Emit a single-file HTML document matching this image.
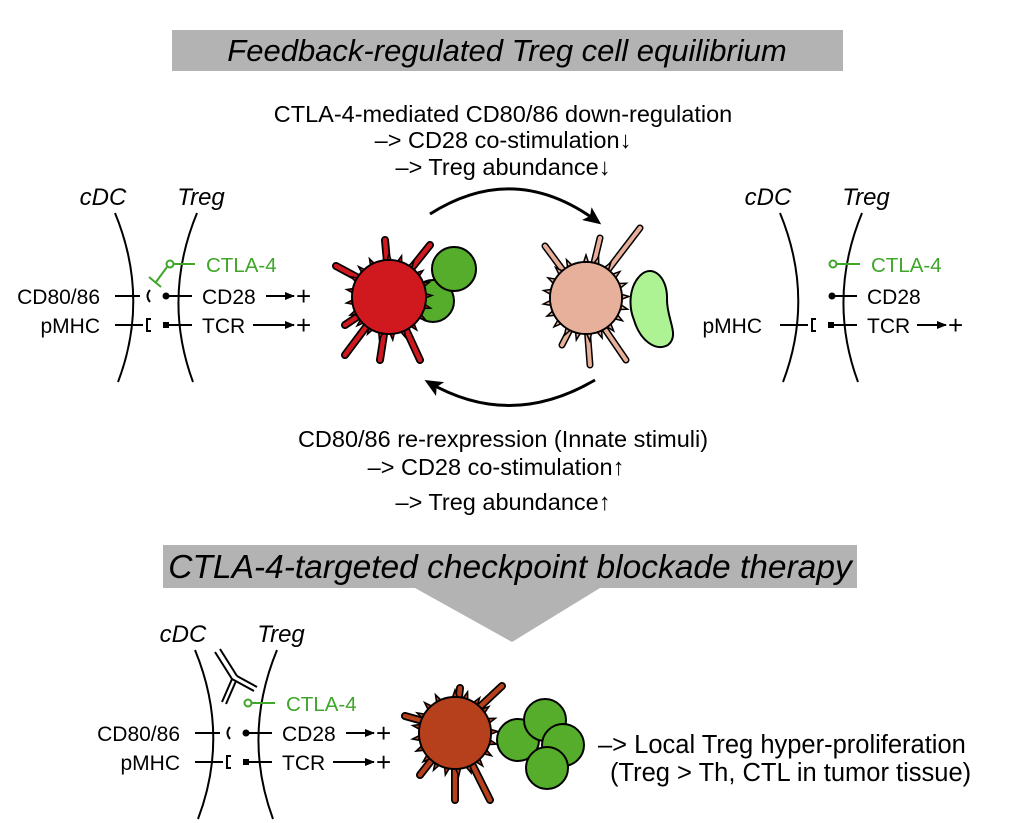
<!DOCTYPE html>
<html><head><meta charset="utf-8"><style>
html,body{margin:0;padding:0;background:#fff;}
svg{display:block;}
text{font-family:"Liberation Sans",Arial,sans-serif;}
</style></head><body>
<svg width="1015" height="823" viewBox="0 0 1015 823" xmlns="http://www.w3.org/2000/svg">
<defs>
<marker id="ah" markerWidth="10" markerHeight="8" refX="9" refY="4" orient="auto" markerUnits="userSpaceOnUse"><path d="M0,0 L10,4 L0,8 Z" fill="#000"/></marker>
<marker id="ab" markerWidth="18" markerHeight="16" refX="14" refY="8" orient="auto" markerUnits="userSpaceOnUse"><path d="M0,0 L18,8 L0,16 L4,8 Z" fill="#000"/></marker>
<g id="mem" fill="none" stroke="#000" stroke-width="2">
<path d="M115,213 Q150,298 118,382"/>
<path d="M197,213 Q162,298 193,382"/>
</g>
<path id="sp" d="M-3,-34 L0,-43 L3,-34 Z" stroke="#000" stroke-width="1.5"/>
<g id="spikes">
<use href="#sp"/><use href="#sp" transform="rotate(17)"/><use href="#sp" transform="rotate(35)"/><use href="#sp" transform="rotate(52)"/><use href="#sp" transform="rotate(70)"/><use href="#sp" transform="rotate(88)"/><use href="#sp" transform="rotate(105)"/><use href="#sp" transform="rotate(122)"/><use href="#sp" transform="rotate(140)"/><use href="#sp" transform="rotate(158)"/><use href="#sp" transform="rotate(175)"/><use href="#sp" transform="rotate(193)"/><use href="#sp" transform="rotate(210)"/><use href="#sp" transform="rotate(228)"/><use href="#sp" transform="rotate(245)"/><use href="#sp" transform="rotate(262)"/><use href="#sp" transform="rotate(280)"/><use href="#sp" transform="rotate(298)"/><use href="#sp" transform="rotate(315)"/><use href="#sp" transform="rotate(333)"/>
</g>
</defs>

<rect x="172" y="30" width="671" height="41" fill="#b3b3b3"/>
<text x="507" y="61" font-size="31" font-style="italic" text-anchor="middle">Feedback-regulated Treg cell equilibrium</text>

<g font-size="23.5" text-anchor="middle">
<text x="503" y="122">CTLA-4-mediated CD80/86 down-regulation</text>
<text x="503" y="148">–&gt; CD28 co-stimulation↓</text>
<text x="503" y="175">–&gt; Treg abundance↓</text>
<text x="503" y="447">CD80/86 re-rexpression (Innate stimuli)</text>
<text x="496" y="475">–&gt; CD28 co-stimulation↑</text>
<text x="503" y="510">–&gt; Treg abundance↑</text>
</g>

<path d="M430,214 Q515,160 598,222" fill="none" stroke="#000" stroke-width="3" marker-end="url(#ab)"/>
<path d="M595,380 Q510,430 428,382" fill="none" stroke="#000" stroke-width="3" marker-end="url(#ab)"/>

<g>
<text x="103" y="205" font-size="24" font-style="italic" text-anchor="middle">cDC</text>
<text x="201" y="205" font-size="24" font-style="italic" text-anchor="middle">Treg</text>
<use href="#mem"/>
<g font-size="21">
<text x="100" y="304" text-anchor="end">CD80/86</text>
<text x="100" y="333" text-anchor="end">pMHC</text>
<text x="202" y="304">CD28</text>
<text x="202" y="333">TCR</text>
<text x="296" y="305" font-size="26">+</text>
<text x="296" y="334" font-size="26">+</text>
</g>
<g stroke="#000" stroke-width="2" fill="none">
<line x1="115" y1="296" x2="140" y2="296"/>
<path d="M150,290 Q145,296 150,302"/>
<line x1="115" y1="325" x2="143" y2="325"/>
<path d="M151,319 L147,319 L147,331 L151,331"/>
<line x1="165" y1="296" x2="192" y2="296"/>
<line x1="165" y1="325" x2="192" y2="325"/>
<line x1="266" y1="296" x2="294" y2="296" marker-end="url(#ah)"/>
<line x1="253" y1="325" x2="294" y2="325" marker-end="url(#ah)"/>
</g>
<circle cx="166" cy="296" r="3.5" fill="#000"/>
<rect x="163" y="322" width="6" height="6" fill="#000"/>
<g stroke="#3fa62a" stroke-width="2" fill="none">
<circle cx="170" cy="264" r="3.5"/>
<line x1="173.5" y1="264" x2="195" y2="264"/>
<line x1="167" y1="267" x2="156" y2="282"/>
<line x1="149" y1="277" x2="161" y2="287"/>
</g>
<text x="206" y="272" font-size="20.5" fill="#3fa62a">CTLA-4</text>
</g>

<g transform="translate(665,0)">
<text x="103" y="205" font-size="24" font-style="italic" text-anchor="middle">cDC</text>
<text x="201" y="205" font-size="24" font-style="italic" text-anchor="middle">Treg</text>
<use href="#mem"/>
<g font-size="21">
<text x="97" y="333" text-anchor="end">pMHC</text>
<text x="202" y="304">CD28</text>
<text x="202" y="333">TCR</text>
<text x="283" y="334" font-size="26">+</text>
</g>
<g stroke="#000" stroke-width="2" fill="none">
<line x1="115" y1="325" x2="143" y2="325"/>
<path d="M151,319 L147,319 L147,331 L151,331"/>
<line x1="165" y1="296" x2="192" y2="296"/>
<line x1="165" y1="325" x2="192" y2="325"/>
<line x1="252" y1="325" x2="281" y2="325" marker-end="url(#ah)"/>
</g>
<circle cx="167" cy="296" r="3.5" fill="#000"/>
<rect x="163" y="322" width="6" height="6" fill="#000"/>
<g stroke="#3fa62a" stroke-width="2" fill="none">
<circle cx="168" cy="264" r="3.5"/>
<line x1="171.5" y1="264" x2="195" y2="264"/>
</g>
<text x="206" y="272" font-size="20.5" fill="#3fa62a">CTLA-4</text>
</g>

<g transform="translate(80,437)">
<text x="103" y="205" font-size="24" font-style="italic" text-anchor="middle">cDC</text>
<text x="201" y="205" font-size="24" font-style="italic" text-anchor="middle">Treg</text>
<use href="#mem"/>
<g font-size="21">
<text x="100" y="304" text-anchor="end">CD80/86</text>
<text x="100" y="333" text-anchor="end">pMHC</text>
<text x="202" y="304">CD28</text>
<text x="202" y="333">TCR</text>
<text x="296" y="305" font-size="26">+</text>
<text x="296" y="334" font-size="26">+</text>
</g>
<g stroke="#000" stroke-width="2" fill="none">
<line x1="115" y1="296" x2="140" y2="296"/>
<path d="M150,290 Q145,296 150,302"/>
<line x1="115" y1="325" x2="143" y2="325"/>
<path d="M151,319 L147,319 L147,331 L151,331"/>
<line x1="165" y1="296" x2="192" y2="296"/>
<line x1="165" y1="325" x2="192" y2="325"/>
<line x1="266" y1="296" x2="294" y2="296" marker-end="url(#ah)"/>
<line x1="253" y1="325" x2="294" y2="325" marker-end="url(#ah)"/>
<path d="M135,215 L152,242 M140,212 L157,239"/>
<path d="M152,242 L174,254 M157,239 L177,250"/>
<path d="M152,242 L142,265 M156,244 L146,267"/>
</g>
<circle cx="166" cy="296" r="3.5" fill="#000"/>
<rect x="163" y="322" width="6" height="6" fill="#000"/>
<g stroke="#3fa62a" stroke-width="2" fill="none">
<circle cx="168" cy="266" r="3.5"/>
<line x1="171.5" y1="266" x2="195" y2="266"/>
</g>
<text x="206" y="274" font-size="20.5" fill="#3fa62a">CTLA-4</text>
</g>

<rect x="163" y="545" width="694" height="43" fill="#b3b3b3"/>
<text x="510" y="578" font-size="33.5" font-style="italic" text-anchor="middle">CTLA-4-targeted checkpoint blockade therapy</text>
<path d="M415,588 L600,588 L512,642 Z" fill="#b3b3b3"/>

<g font-size="25.5">
<text x="598" y="753">–&gt; Local Treg hyper-proliferation</text>
<text x="610" y="781">(Treg &gt; Th, CTL in tumor tissue)</text>
</g>

<circle cx="433" cy="301" r="21" fill="#56ad2c" stroke="#000" stroke-width="2"/>
<circle cx="454" cy="269" r="22" fill="#56ad2c" stroke="#000" stroke-width="2"/>
<g stroke-linecap="round" fill="none">
<g stroke="#000" stroke-width="8">
<path d="M390,295 L336,266 M390,295 L385,240 M390,295 L430,245 M390,295 L345,355 M390,295 L380,360 M390,295 L420,360 M390,295 L345,325"/>
</g>
<g stroke="#d0191e" stroke-width="4.5">
<path d="M390,295 L336,266 M390,295 L385,240 M390,295 L430,245 M390,295 L345,355 M390,295 L380,360 M390,295 L420,360 M390,295 L345,325"/>
</g>
</g>
<g transform="translate(389,297)" fill="#d0191e"><use href="#spikes"/></g>
<circle cx="389" cy="297" r="37" fill="#d0191e" stroke="#000" stroke-width="2"/>
<circle cx="389" cy="297" r="36" fill="#d0191e"/>

<path d="M638,278 C650,262 668,275 667,300 C667,320 680,335 668,345 C655,352 640,340 634,320 C628,305 630,288 638,278 Z" fill="#adf293" stroke="#000" stroke-width="2"/>
<g stroke-linecap="round" fill="none">
<g stroke="#000" stroke-width="7">
<path d="M585,300 L545,246 M585,300 L600,238 M585,300 L640,228 M585,300 L562,345 M585,300 L590,365 M585,300 L626,360 M585,300 L563,310"/>
</g>
<g stroke="#e7b09b" stroke-width="4">
<path d="M585,300 L545,246 M585,300 L600,238 M585,300 L640,228 M585,300 L562,345 M585,300 L590,365 M585,300 L626,360 M585,300 L563,310"/>
</g>
</g>
<g transform="translate(586,298)" fill="#e7b09b"><use href="#spikes"/></g>
<circle cx="586" cy="298" r="36" fill="#e7b09b" stroke="#000" stroke-width="2"/>
<circle cx="586" cy="298" r="35" fill="#e7b09b"/>

<circle cx="518" cy="740" r="21" fill="#56ad2c" stroke="#000" stroke-width="2"/>
<circle cx="545" cy="720" r="21" fill="#56ad2c" stroke="#000" stroke-width="2"/>
<circle cx="563" cy="745" r="21" fill="#56ad2c" stroke="#000" stroke-width="2"/>
<circle cx="547" cy="768" r="21" fill="#56ad2c" stroke="#000" stroke-width="2"/>
<g stroke-linecap="round" fill="none">
<g stroke="#000" stroke-width="8">
<path d="M455,730 L405,716 M455,730 L460,688 M455,730 L502,686 M455,730 L420,775 M455,730 L455,800 M455,730 L490,800 M455,730 L425,745"/>
</g>
<g stroke="#b7401c" stroke-width="4.5">
<path d="M455,730 L405,716 M455,730 L460,688 M455,730 L502,686 M455,730 L420,775 M455,730 L455,800 M455,730 L490,800 M455,730 L425,745"/>
</g>
</g>
<g transform="translate(455,733)" fill="#b7401c"><use href="#spikes"/></g>
<circle cx="455" cy="733" r="36" fill="#b7401c" stroke="#000" stroke-width="2"/>
<circle cx="455" cy="733" r="35" fill="#b7401c"/>
</svg>
</body></html>
